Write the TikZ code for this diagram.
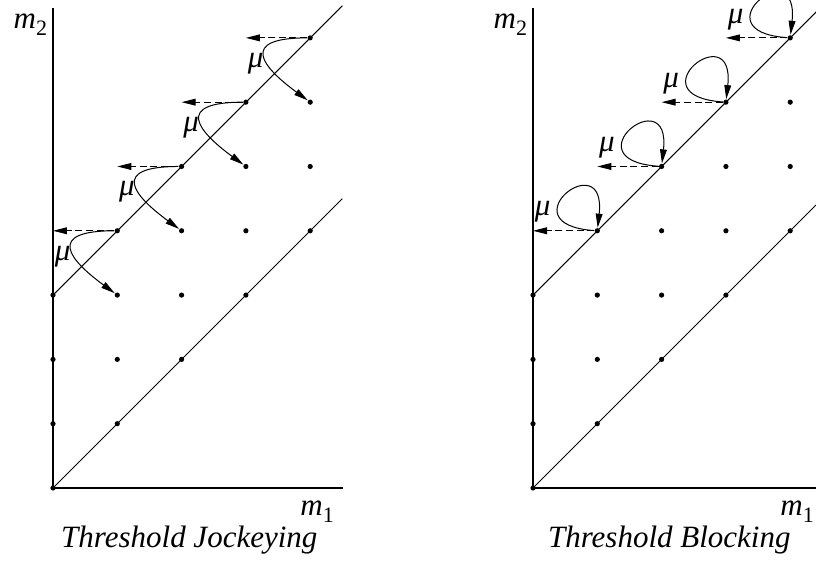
\documentclass[tikz,border=0pt]{standalone}
\usepackage{fontspec}
\setmainfont{Liberation Serif}
\usetikzlibrary{arrows.meta}
\newcommand{\idx}[1]{\raisebox{-3.5pt}{\upshape\fontsize{11}{11}\selectfont #1}}

\begin{document}
\begin{tikzpicture}[x=32.15pt,y=32.15pt,line width=0.5pt,
    dot/.style={circle,fill,inner sep=0pt,minimum size=2.6pt},
    move/.style={-{Triangle[length=7pt,width=3.4pt]}},
    lost/.style={move,dash pattern=on 3.5pt off 1.8pt},
    txt/.style={inner sep=0pt,font=\fontsize{15.5}{18}\selectfont\itshape}]
  \clip (-0.824,-1.12) rectangle (11.866,7.589);
  % the two state spaces
  \foreach \p/\dx/\title in {j/0/Threshold Jockeying,b/7.465/Threshold Blocking}{
    \begin{scope}[shift={(\dx,0)}]
      \foreach \a/\b in {0/0,0/1,1/1,0/2,1/2,2/2,0/3,1/3,2/3,3/3,1/4,2/4,3/4,4/4,2/5,3/5,4/5,3/6,4/6,4/7}
        \node[dot] (\p-\a-\b) at (\a,\b) {};
      \coordinate (\p-top) at (0,7.46);
      \coordinate (\p-right) at (4.51,0);
      \coordinate (\p-lo) at (4.5,4.5);
      \coordinate (\p-hi) at (4.5,7.5);
      \draw[line width=0.6pt] (\p-top) -- (\p-0-0.center) -- (\p-right);
      \draw (\p-0-0.center) -- (\p-lo);
      \draw (\p-0-3.center) -- (\p-hi);
      \foreach \a/\b in {1/4,2/5,3/6,4/7}
        \coordinate (\p-off-\a) at (\a-1,\b);
      \node[txt,anchor=base west] (\p-m2) at (-0.62,7.15) {m\idx{2}};
      \node[txt,anchor=base west] (\p-m1) at (3.84,-0.42) {m\idx{1}};
      \node[txt,anchor=base] (\p-title) at (2.12,-0.918) {\title};
    \end{scope}
  }
  % jockeying: departure from queue 1, then a customer jockeys
  \foreach \a/\b/\c in {1/4/3,2/5/4,3/6/5,4/7/6}{
    \draw[lost] (j-\a-\b) -- (j-off-\a);
    \draw[move] (j-\a-\b) .. controls +(-1.12,0) and +(-0.75,0.55) .. (j-\a-\c);
    \node[txt] (j-mu-\a) at (\a-0.85,\b-0.4) {μ};
  }
  % blocking: the state does not change
  \begin{scope}[shift={(7.465,0)}]
    \foreach \a/\b in {1/4,2/5,3/6,4/7}{
      \draw[lost] (b-\a-\b) -- (b-off-\a);
      \draw[move] (b-\a-\b) .. controls +(-1.45,0.1) and +(0.15,1.36) .. (b-\a-\b);
      \node[txt] (b-mu-\a) at (\a-0.85,\b+0.29) {μ};
    }
  \end{scope}
\end{tikzpicture}
\end{document}
